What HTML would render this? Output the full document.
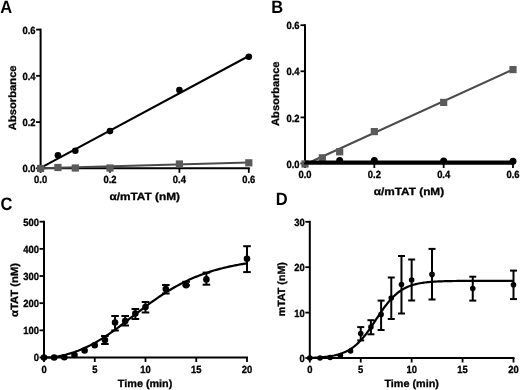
<!DOCTYPE html>
<html><head><meta charset="utf-8"><style>
html,body{margin:0;padding:0;background:#fff;}
body{width:520px;height:390px;overflow:hidden;font-family:"Liberation Sans",sans-serif;}
svg{display:block;will-change:transform;}
text{font-family:"Liberation Sans",sans-serif;font-weight:bold;}
</style></head><body>
<svg width="520" height="390" viewBox="0 0 520 390" text-rendering="geometricPrecision">
<rect width="520" height="390" fill="#fff"/>
<text transform="translate(6.3 12.8) scale(1 1.09)" x="0" y="0" font-size="16.5" text-anchor="middle" >A</text>
<line x1="40.60" y1="28.60" x2="40.60" y2="169.30" stroke="#000" stroke-width="2"/>
<line x1="39.60" y1="168.30" x2="249.80" y2="168.30" stroke="#000" stroke-width="2"/>
<line x1="36.10" y1="168.30" x2="40.60" y2="168.30" stroke="#000" stroke-width="1.8"/>
<text transform="translate(35.60 172.25) scale(0.97 1.07)" font-size="9.7" text-anchor="end"  stroke="#000" stroke-width="0.3">0.0</text>
<line x1="36.10" y1="122.07" x2="40.60" y2="122.07" stroke="#000" stroke-width="1.8"/>
<text transform="translate(35.60 126.02) scale(0.97 1.07)" font-size="9.7" text-anchor="end"  stroke="#000" stroke-width="0.3">0.2</text>
<line x1="36.10" y1="75.83" x2="40.60" y2="75.83" stroke="#000" stroke-width="1.8"/>
<text transform="translate(35.60 79.78) scale(0.97 1.07)" font-size="9.7" text-anchor="end"  stroke="#000" stroke-width="0.3">0.4</text>
<line x1="36.10" y1="29.60" x2="40.60" y2="29.60" stroke="#000" stroke-width="1.8"/>
<text transform="translate(35.60 33.55) scale(0.97 1.07)" font-size="9.7" text-anchor="end"  stroke="#000" stroke-width="0.3">0.6</text>
<line x1="40.60" y1="168.30" x2="40.60" y2="172.80" stroke="#000" stroke-width="1.8"/>
<text transform="translate(40.60 182.80) scale(0.97 1.07)" font-size="9.7" text-anchor="middle"  stroke="#000" stroke-width="0.3">0.0</text>
<line x1="110.00" y1="168.30" x2="110.00" y2="172.80" stroke="#000" stroke-width="1.8"/>
<text transform="translate(110.00 182.80) scale(0.97 1.07)" font-size="9.7" text-anchor="middle"  stroke="#000" stroke-width="0.3">0.2</text>
<line x1="179.40" y1="168.30" x2="179.40" y2="172.80" stroke="#000" stroke-width="1.8"/>
<text transform="translate(179.40 182.80) scale(0.97 1.07)" font-size="9.7" text-anchor="middle"  stroke="#000" stroke-width="0.3">0.4</text>
<line x1="248.80" y1="168.30" x2="248.80" y2="172.80" stroke="#000" stroke-width="1.8"/>
<text transform="translate(248.80 182.80) scale(0.97 1.07)" font-size="9.7" text-anchor="middle"  stroke="#000" stroke-width="0.3">0.6</text>
<text x="15.60" y="97.80" font-size="10.5" text-anchor="middle"  stroke="#000" stroke-width="0.3" transform="rotate(-90 15.6 97.8)" textLength="64.8" lengthAdjust="spacingAndGlyphs">Absorbance</text>
<text x="144.70" y="200.30" font-size="10.5" text-anchor="middle"  stroke="#000" stroke-width="0.3" textLength="70.5" lengthAdjust="spacingAndGlyphs">α/mTAT (nM)</text>
<line x1="40.60" y1="167.80" x2="248.80" y2="56.00" stroke="#000" stroke-width="2"/>
<circle cx="57.95" cy="155.30" r="3.3" fill="#000"/>
<circle cx="75.30" cy="150.80" r="3.3" fill="#000"/>
<circle cx="110.00" cy="131.10" r="3.3" fill="#000"/>
<circle cx="179.40" cy="90.10" r="3.3" fill="#000"/>
<circle cx="248.80" cy="56.80" r="3.3" fill="#000"/>
<line x1="40.60" y1="168.30" x2="248.80" y2="162.60" stroke="#4a4a4a" stroke-width="2"/>
<rect x="37.00" y="164.90" width="7.2" height="7.2" fill="#5a5a5a"/>
<rect x="54.35" y="163.90" width="7.2" height="7.2" fill="#5a5a5a"/>
<rect x="71.70" y="164.40" width="7.2" height="7.2" fill="#5a5a5a"/>
<rect x="106.40" y="164.40" width="7.2" height="7.2" fill="#5a5a5a"/>
<rect x="175.80" y="160.40" width="7.2" height="7.2" fill="#5a5a5a"/>
<rect x="245.20" y="159.20" width="7.2" height="7.2" fill="#5a5a5a"/>
<text transform="translate(277.1 12.5) scale(1 1.09)" x="0" y="0" font-size="16.5" text-anchor="middle" >B</text>
<line x1="305.00" y1="24.20" x2="305.00" y2="164.50" stroke="#000" stroke-width="2"/>
<line x1="304.00" y1="163.50" x2="514.00" y2="163.50" stroke="#000" stroke-width="2"/>
<line x1="300.50" y1="163.50" x2="305.00" y2="163.50" stroke="#000" stroke-width="1.8"/>
<text transform="translate(299.50 167.65) scale(0.97 1.07)" font-size="9.7" text-anchor="end"  stroke="#000" stroke-width="0.3">0.0</text>
<line x1="300.50" y1="117.40" x2="305.00" y2="117.40" stroke="#000" stroke-width="1.8"/>
<text transform="translate(299.50 121.55) scale(0.97 1.07)" font-size="9.7" text-anchor="end"  stroke="#000" stroke-width="0.3">0.2</text>
<line x1="300.50" y1="71.30" x2="305.00" y2="71.30" stroke="#000" stroke-width="1.8"/>
<text transform="translate(299.50 75.45) scale(0.97 1.07)" font-size="9.7" text-anchor="end"  stroke="#000" stroke-width="0.3">0.4</text>
<line x1="300.50" y1="25.20" x2="305.00" y2="25.20" stroke="#000" stroke-width="1.8"/>
<text transform="translate(299.50 29.35) scale(0.97 1.07)" font-size="9.7" text-anchor="end"  stroke="#000" stroke-width="0.3">0.6</text>
<line x1="305.00" y1="163.50" x2="305.00" y2="168.00" stroke="#000" stroke-width="1.8"/>
<text transform="translate(305.00 177.90) scale(0.97 1.07)" font-size="9.7" text-anchor="middle"  stroke="#000" stroke-width="0.3">0.0</text>
<line x1="374.33" y1="163.50" x2="374.33" y2="168.00" stroke="#000" stroke-width="1.8"/>
<text transform="translate(374.33 177.90) scale(0.97 1.07)" font-size="9.7" text-anchor="middle"  stroke="#000" stroke-width="0.3">0.2</text>
<line x1="443.67" y1="163.50" x2="443.67" y2="168.00" stroke="#000" stroke-width="1.8"/>
<text transform="translate(443.67 177.90) scale(0.97 1.07)" font-size="9.7" text-anchor="middle"  stroke="#000" stroke-width="0.3">0.4</text>
<line x1="513.00" y1="163.50" x2="513.00" y2="168.00" stroke="#000" stroke-width="1.8"/>
<text transform="translate(513.00 177.90) scale(0.97 1.07)" font-size="9.7" text-anchor="middle"  stroke="#000" stroke-width="0.3">0.6</text>
<text x="279.20" y="93.70" font-size="10.5" text-anchor="middle"  stroke="#000" stroke-width="0.3" transform="rotate(-90 279.2 93.7)" textLength="64.6" lengthAdjust="spacingAndGlyphs">Absorbance</text>
<text x="408.90" y="195.20" font-size="10.5" text-anchor="middle"  stroke="#000" stroke-width="0.3" textLength="70.5" lengthAdjust="spacingAndGlyphs">α/mTAT (nM)</text>
<line x1="305.00" y1="164.50" x2="513.00" y2="69.50" stroke="#4a4a4a" stroke-width="2"/>
<rect x="301.40" y="160.40" width="7.2" height="7.2" fill="#5a5a5a"/>
<rect x="318.73" y="154.20" width="7.2" height="7.2" fill="#5a5a5a"/>
<rect x="336.07" y="148.20" width="7.2" height="7.2" fill="#5a5a5a"/>
<rect x="370.73" y="128.00" width="7.2" height="7.2" fill="#5a5a5a"/>
<rect x="440.07" y="98.80" width="7.2" height="7.2" fill="#5a5a5a"/>
<rect x="509.40" y="66.00" width="7.2" height="7.2" fill="#5a5a5a"/>
<line x1="305.00" y1="162.00" x2="513.00" y2="162.00" stroke="#000" stroke-width="3"/>
<line x1="304.00" y1="163.50" x2="514.00" y2="163.50" stroke="#000" stroke-width="2"/>
<circle cx="339.67" cy="160.40" r="3.5" fill="#000"/>
<circle cx="374.33" cy="160.40" r="3.5" fill="#000"/>
<circle cx="443.67" cy="161.00" r="3.5" fill="#000"/>
<circle cx="513.00" cy="161.20" r="3.5" fill="#000"/>
<text transform="translate(6.5 209.5) scale(1 1.09)" x="0" y="0" font-size="16.5" text-anchor="middle" >C</text>
<line x1="44.00" y1="220.70" x2="44.00" y2="358.50" stroke="#000" stroke-width="2"/>
<line x1="43.00" y1="357.50" x2="248.00" y2="357.50" stroke="#000" stroke-width="2"/>
<line x1="39.50" y1="357.50" x2="44.00" y2="357.50" stroke="#000" stroke-width="1.8"/>
<text transform="translate(39.00 361.45) scale(0.97 1.07)" font-size="9.7" text-anchor="end"  stroke="#000" stroke-width="0.3">0</text>
<line x1="39.50" y1="330.34" x2="44.00" y2="330.34" stroke="#000" stroke-width="1.8"/>
<text transform="translate(39.00 334.29) scale(0.97 1.07)" font-size="9.7" text-anchor="end"  stroke="#000" stroke-width="0.3">100</text>
<line x1="39.50" y1="303.18" x2="44.00" y2="303.18" stroke="#000" stroke-width="1.8"/>
<text transform="translate(39.00 307.13) scale(0.97 1.07)" font-size="9.7" text-anchor="end"  stroke="#000" stroke-width="0.3">200</text>
<line x1="39.50" y1="276.02" x2="44.00" y2="276.02" stroke="#000" stroke-width="1.8"/>
<text transform="translate(39.00 279.97) scale(0.97 1.07)" font-size="9.7" text-anchor="end"  stroke="#000" stroke-width="0.3">300</text>
<line x1="39.50" y1="248.86" x2="44.00" y2="248.86" stroke="#000" stroke-width="1.8"/>
<text transform="translate(39.00 252.81) scale(0.97 1.07)" font-size="9.7" text-anchor="end"  stroke="#000" stroke-width="0.3">400</text>
<line x1="39.50" y1="221.70" x2="44.00" y2="221.70" stroke="#000" stroke-width="1.8"/>
<text transform="translate(39.00 225.65) scale(0.97 1.07)" font-size="9.7" text-anchor="end"  stroke="#000" stroke-width="0.3">500</text>
<line x1="44.00" y1="357.50" x2="44.00" y2="362.00" stroke="#000" stroke-width="1.8"/>
<text transform="translate(44.00 372.50) scale(0.97 1.07)" font-size="9.7" text-anchor="middle"  stroke="#000" stroke-width="0.3">0</text>
<line x1="94.75" y1="357.50" x2="94.75" y2="362.00" stroke="#000" stroke-width="1.8"/>
<text transform="translate(94.75 372.50) scale(0.97 1.07)" font-size="9.7" text-anchor="middle"  stroke="#000" stroke-width="0.3">5</text>
<line x1="145.50" y1="357.50" x2="145.50" y2="362.00" stroke="#000" stroke-width="1.8"/>
<text transform="translate(145.50 372.50) scale(0.97 1.07)" font-size="9.7" text-anchor="middle"  stroke="#000" stroke-width="0.3">10</text>
<line x1="196.25" y1="357.50" x2="196.25" y2="362.00" stroke="#000" stroke-width="1.8"/>
<text transform="translate(196.25 372.50) scale(0.97 1.07)" font-size="9.7" text-anchor="middle"  stroke="#000" stroke-width="0.3">15</text>
<line x1="247.00" y1="357.50" x2="247.00" y2="362.00" stroke="#000" stroke-width="1.8"/>
<text transform="translate(247.00 372.50) scale(0.97 1.07)" font-size="9.7" text-anchor="middle"  stroke="#000" stroke-width="0.3">20</text>
<text x="18.30" y="289.90" font-size="10.5" text-anchor="middle"  stroke="#000" stroke-width="0.3" transform="rotate(-90 18.3 289.9)" textLength="54" lengthAdjust="spacingAndGlyphs">αTAT (nM)</text>
<text x="145.10" y="387.40" font-size="10.5" text-anchor="middle"  stroke="#000" stroke-width="0.3" textLength="54.5" lengthAdjust="spacingAndGlyphs">Time (min)</text>
<polyline points="44.00,357.50 45.71,357.50 47.41,357.50 49.12,357.50 50.82,357.50 52.53,357.38 54.24,357.10 55.94,356.80 57.65,356.48 59.35,356.13 61.06,355.77 62.76,355.38 64.47,354.96 66.18,354.53 67.88,354.06 69.59,353.57 71.29,353.05 73.00,352.50 74.71,351.93 76.41,351.32 78.12,350.69 79.82,350.02 81.53,349.32 83.24,348.60 84.94,347.84 86.65,347.05 88.35,346.23 90.06,345.38 91.76,344.50 93.47,343.58 95.18,342.64 96.88,341.67 98.59,340.67 100.29,339.64 102.00,338.58 103.71,337.50 105.41,336.39 107.12,335.26 108.82,334.11 110.53,332.93 112.24,331.73 113.94,330.52 115.65,329.29 117.35,328.04 119.06,326.78 120.76,325.50 122.47,324.21 124.18,322.92 125.88,321.62 127.59,320.31 129.29,318.99 131.00,317.68 132.71,316.36 134.41,315.04 136.12,313.73 137.82,312.41 139.53,311.11 141.24,309.81 142.94,308.52 144.65,307.23 146.35,305.96 148.06,304.70 149.76,303.45 151.47,302.21 153.18,300.99 154.88,299.79 156.59,298.60 158.29,297.43 160.00,296.28 161.71,295.14 163.41,294.03 165.12,292.93 166.82,291.86 168.53,290.80 170.24,289.77 171.94,288.76 173.65,287.77 175.35,286.80 177.06,285.85 178.76,284.93 180.47,284.02 182.18,283.14 183.88,282.28 185.59,281.45 187.29,280.63 189.00,279.84 190.71,279.06 192.41,278.31 194.12,277.58 195.82,276.87 197.53,276.18 199.24,275.51 200.94,274.86 202.65,274.23 204.35,273.61 206.06,273.02 207.76,272.44 209.47,271.88 211.18,271.34 212.88,270.82 214.59,270.31 216.29,269.82 218.00,269.35 219.71,268.89 221.41,268.45 223.12,268.02 224.82,267.60 226.53,267.20 228.24,266.82 229.94,266.44 231.65,266.08 233.35,265.73 235.06,265.40 236.76,265.07 238.47,264.76 240.18,264.45 241.88,264.16 243.59,263.88 245.29,263.61 247.00,263.35" fill="none" stroke="#000" stroke-width="2.2" stroke-linejoin="round"/>
<circle cx="44.00" cy="357.50" r="3.3" fill="#000"/>
<circle cx="54.15" cy="357.50" r="3.3" fill="#000"/>
<circle cx="64.30" cy="357.30" r="3.3" fill="#000"/>
<circle cx="74.45" cy="355.00" r="3.3" fill="#000"/>
<circle cx="84.60" cy="350.50" r="3.3" fill="#000"/>
<circle cx="94.75" cy="345.30" r="3.3" fill="#000"/>
<line x1="104.90" y1="336.00" x2="104.90" y2="344.00" stroke="#000" stroke-width="2"/>
<line x1="101.10" y1="336.00" x2="108.70" y2="336.00" stroke="#000" stroke-width="2"/>
<line x1="101.10" y1="344.00" x2="108.70" y2="344.00" stroke="#000" stroke-width="2"/>
<circle cx="104.90" cy="340.00" r="3.3" fill="#000"/>
<line x1="115.05" y1="316.00" x2="115.05" y2="330.50" stroke="#000" stroke-width="2"/>
<line x1="111.25" y1="316.00" x2="118.85" y2="316.00" stroke="#000" stroke-width="2"/>
<line x1="111.25" y1="330.50" x2="118.85" y2="330.50" stroke="#000" stroke-width="2"/>
<circle cx="115.05" cy="322.50" r="3.3" fill="#000"/>
<line x1="125.20" y1="316.00" x2="125.20" y2="325.50" stroke="#000" stroke-width="2"/>
<line x1="121.40" y1="316.00" x2="129.00" y2="316.00" stroke="#000" stroke-width="2"/>
<line x1="121.40" y1="325.50" x2="129.00" y2="325.50" stroke="#000" stroke-width="2"/>
<circle cx="125.20" cy="321.00" r="3.3" fill="#000"/>
<line x1="135.35" y1="309.00" x2="135.35" y2="319.00" stroke="#000" stroke-width="2"/>
<line x1="131.55" y1="309.00" x2="139.15" y2="309.00" stroke="#000" stroke-width="2"/>
<line x1="131.55" y1="319.00" x2="139.15" y2="319.00" stroke="#000" stroke-width="2"/>
<circle cx="135.35" cy="313.50" r="3.3" fill="#000"/>
<line x1="145.50" y1="302.00" x2="145.50" y2="312.50" stroke="#000" stroke-width="2"/>
<line x1="141.70" y1="302.00" x2="149.30" y2="302.00" stroke="#000" stroke-width="2"/>
<line x1="141.70" y1="312.50" x2="149.30" y2="312.50" stroke="#000" stroke-width="2"/>
<circle cx="145.50" cy="307.00" r="3.3" fill="#000"/>
<line x1="165.80" y1="285.00" x2="165.80" y2="293.50" stroke="#000" stroke-width="2"/>
<line x1="162.00" y1="285.00" x2="169.60" y2="285.00" stroke="#000" stroke-width="2"/>
<line x1="162.00" y1="293.50" x2="169.60" y2="293.50" stroke="#000" stroke-width="2"/>
<circle cx="165.80" cy="289.00" r="3.3" fill="#000"/>
<line x1="186.10" y1="281.80" x2="186.10" y2="285.30" stroke="#000" stroke-width="2"/>
<line x1="182.30" y1="281.80" x2="189.90" y2="281.80" stroke="#000" stroke-width="2"/>
<line x1="182.30" y1="285.30" x2="189.90" y2="285.30" stroke="#000" stroke-width="2"/>
<circle cx="186.10" cy="285.30" r="3.3" fill="#000"/>
<line x1="206.40" y1="272.60" x2="206.40" y2="284.70" stroke="#000" stroke-width="2"/>
<line x1="202.60" y1="272.60" x2="210.20" y2="272.60" stroke="#000" stroke-width="2"/>
<line x1="202.60" y1="284.70" x2="210.20" y2="284.70" stroke="#000" stroke-width="2"/>
<circle cx="206.40" cy="279.40" r="3.3" fill="#000"/>
<line x1="247.00" y1="246.20" x2="247.00" y2="272.10" stroke="#000" stroke-width="2"/>
<line x1="243.20" y1="246.20" x2="250.80" y2="246.20" stroke="#000" stroke-width="2"/>
<line x1="243.20" y1="272.10" x2="250.80" y2="272.10" stroke="#000" stroke-width="2"/>
<circle cx="247.00" cy="258.80" r="3.3" fill="#000"/>
<text transform="translate(281.7 204.6) scale(1 1.09)" x="0" y="0" font-size="16.5" text-anchor="middle" >D</text>
<line x1="309.80" y1="220.80" x2="309.80" y2="359.00" stroke="#000" stroke-width="2"/>
<line x1="308.80" y1="358.00" x2="514.50" y2="358.00" stroke="#000" stroke-width="2"/>
<line x1="305.30" y1="358.00" x2="309.80" y2="358.00" stroke="#000" stroke-width="1.8"/>
<text transform="translate(304.80 361.95) scale(0.97 1.07)" font-size="9.7" text-anchor="end"  stroke="#000" stroke-width="0.3">0</text>
<line x1="305.30" y1="312.60" x2="309.80" y2="312.60" stroke="#000" stroke-width="1.8"/>
<text transform="translate(304.80 316.55) scale(0.97 1.07)" font-size="9.7" text-anchor="end"  stroke="#000" stroke-width="0.3">10</text>
<line x1="305.30" y1="267.20" x2="309.80" y2="267.20" stroke="#000" stroke-width="1.8"/>
<text transform="translate(304.80 271.15) scale(0.97 1.07)" font-size="9.7" text-anchor="end"  stroke="#000" stroke-width="0.3">20</text>
<line x1="305.30" y1="221.80" x2="309.80" y2="221.80" stroke="#000" stroke-width="1.8"/>
<text transform="translate(304.80 225.75) scale(0.97 1.07)" font-size="9.7" text-anchor="end"  stroke="#000" stroke-width="0.3">30</text>
<line x1="309.80" y1="358.00" x2="309.80" y2="362.50" stroke="#000" stroke-width="1.8"/>
<text transform="translate(309.80 372.50) scale(0.97 1.07)" font-size="9.7" text-anchor="middle"  stroke="#000" stroke-width="0.3">0</text>
<line x1="360.73" y1="358.00" x2="360.73" y2="362.50" stroke="#000" stroke-width="1.8"/>
<text transform="translate(360.73 372.50) scale(0.97 1.07)" font-size="9.7" text-anchor="middle"  stroke="#000" stroke-width="0.3">5</text>
<line x1="411.65" y1="358.00" x2="411.65" y2="362.50" stroke="#000" stroke-width="1.8"/>
<text transform="translate(411.65 372.50) scale(0.97 1.07)" font-size="9.7" text-anchor="middle"  stroke="#000" stroke-width="0.3">10</text>
<line x1="462.57" y1="358.00" x2="462.57" y2="362.50" stroke="#000" stroke-width="1.8"/>
<text transform="translate(462.57 372.50) scale(0.97 1.07)" font-size="9.7" text-anchor="middle"  stroke="#000" stroke-width="0.3">15</text>
<line x1="513.50" y1="358.00" x2="513.50" y2="362.50" stroke="#000" stroke-width="1.8"/>
<text transform="translate(513.50 372.50) scale(0.97 1.07)" font-size="9.7" text-anchor="middle"  stroke="#000" stroke-width="0.3">20</text>
<text x="284.80" y="289.20" font-size="10.5" text-anchor="middle"  stroke="#000" stroke-width="0.3" transform="rotate(-90 284.8 289.2)" textLength="54" lengthAdjust="spacingAndGlyphs">mTAT (nM)</text>
<text x="411.70" y="387.40" font-size="10.5" text-anchor="middle"  stroke="#000" stroke-width="0.3" textLength="54.5" lengthAdjust="spacingAndGlyphs">Time (min)</text>
<polyline points="309.80,357.90 311.08,357.85 312.36,357.80 313.64,357.75 314.92,357.69 316.21,357.62 317.49,357.54 318.77,357.46 320.05,357.37 321.33,357.27 322.61,357.16 323.89,357.04 325.17,356.91 326.45,356.76 327.74,356.60 329.02,356.42 330.30,356.22 331.58,356.01 332.86,355.77 334.14,355.51 335.42,355.22 336.70,354.91 337.98,354.57 339.27,354.19 340.55,353.78 341.83,353.33 343.11,352.84 344.39,352.31 345.67,351.73 346.95,351.10 348.23,350.41 349.52,349.67 350.80,348.87 352.08,348.00 353.36,347.07 354.64,346.07 355.92,345.00 357.20,343.86 358.48,342.65 359.76,341.35 361.05,339.99 362.33,338.55 363.61,337.04 364.89,335.45 366.17,333.81 367.45,332.10 368.73,330.33 370.01,328.51 371.29,326.66 372.58,324.76 373.86,322.85 375.14,320.91 376.42,318.97 377.70,317.03 378.98,315.11 380.26,313.21 381.54,311.33 382.82,309.50 384.11,307.72 385.39,305.98 386.67,304.31 387.95,302.71 389.23,301.17 390.51,299.70 391.79,298.31 393.07,296.99 394.35,295.75 395.64,294.58 396.92,293.48 398.20,292.45 399.48,291.50 400.76,290.61 402.04,289.79 403.32,289.02 404.60,288.32 405.88,287.67 407.17,287.07 408.45,286.52 409.73,286.01 411.01,285.55 412.29,285.12 413.57,284.73 414.85,284.38 416.13,284.06 417.42,283.76 418.70,283.49 419.98,283.25 421.26,283.02 422.54,282.82 423.82,282.63 425.10,282.47 426.38,282.31 427.66,282.17 428.95,282.05 430.23,281.93 431.51,281.83 432.79,281.74 434.07,281.65 435.35,281.57 436.63,281.50 437.91,281.44 439.19,281.38 440.48,281.33 441.76,281.28 443.04,281.24 444.32,281.20 445.60,281.17 446.88,281.14 448.16,281.11 449.44,281.08 450.72,281.06 452.01,281.04 453.29,281.02 454.57,281.00 455.85,280.98 457.13,280.97 458.41,280.96 459.69,280.94 460.97,280.93 462.25,280.92 463.54,280.92 464.82,280.91 466.10,280.90 467.38,280.89 468.66,280.89 469.94,280.88 471.22,280.88 472.50,280.87 473.78,280.87 475.07,280.87 476.35,280.86 477.63,280.86 478.91,280.86 480.19,280.86 481.47,280.85 482.75,280.85 484.03,280.85 485.32,280.85 486.60,280.85 487.88,280.85 489.16,280.84 490.44,280.84 491.72,280.84 493.00,280.84 494.28,280.84 495.56,280.84 496.85,280.84 498.13,280.84 499.41,280.84 500.69,280.84 501.97,280.84 503.25,280.84 504.53,280.84 505.81,280.84 507.09,280.84 508.38,280.84 509.66,280.84 510.94,280.84 512.22,280.84 513.50,280.84" fill="none" stroke="#000" stroke-width="2.2" stroke-linejoin="round"/>
<circle cx="309.80" cy="358.00" r="2.8" fill="#000"/>
<circle cx="319.99" cy="358.00" r="2.8" fill="#000"/>
<circle cx="330.17" cy="357.50" r="2.8" fill="#000"/>
<circle cx="340.36" cy="355.50" r="2.8" fill="#000"/>
<circle cx="350.54" cy="351.00" r="2.8" fill="#000"/>
<line x1="360.73" y1="327.10" x2="360.73" y2="340.40" stroke="#000" stroke-width="2"/>
<line x1="357.23" y1="327.10" x2="364.23" y2="327.10" stroke="#000" stroke-width="2"/>
<line x1="357.23" y1="340.40" x2="364.23" y2="340.40" stroke="#000" stroke-width="2"/>
<circle cx="360.73" cy="333.50" r="2.8" fill="#000"/>
<line x1="370.91" y1="320.20" x2="370.91" y2="334.30" stroke="#000" stroke-width="2"/>
<line x1="367.41" y1="320.20" x2="374.41" y2="320.20" stroke="#000" stroke-width="2"/>
<line x1="367.41" y1="334.30" x2="374.41" y2="334.30" stroke="#000" stroke-width="2"/>
<circle cx="370.91" cy="327.10" r="2.8" fill="#000"/>
<line x1="381.10" y1="300.60" x2="381.10" y2="330.00" stroke="#000" stroke-width="2"/>
<line x1="377.60" y1="300.60" x2="384.60" y2="300.60" stroke="#000" stroke-width="2"/>
<line x1="377.60" y1="330.00" x2="384.60" y2="330.00" stroke="#000" stroke-width="2"/>
<circle cx="381.10" cy="314.40" r="2.8" fill="#000"/>
<line x1="391.28" y1="277.50" x2="391.28" y2="319.00" stroke="#000" stroke-width="2"/>
<line x1="387.78" y1="277.50" x2="394.78" y2="277.50" stroke="#000" stroke-width="2"/>
<line x1="387.78" y1="319.00" x2="394.78" y2="319.00" stroke="#000" stroke-width="2"/>
<circle cx="391.28" cy="298.00" r="2.8" fill="#000"/>
<line x1="401.47" y1="256.00" x2="401.47" y2="313.50" stroke="#000" stroke-width="2"/>
<line x1="397.97" y1="256.00" x2="404.97" y2="256.00" stroke="#000" stroke-width="2"/>
<line x1="397.97" y1="313.50" x2="404.97" y2="313.50" stroke="#000" stroke-width="2"/>
<circle cx="401.47" cy="284.50" r="2.8" fill="#000"/>
<line x1="411.65" y1="259.50" x2="411.65" y2="300.50" stroke="#000" stroke-width="2"/>
<line x1="408.15" y1="259.50" x2="415.15" y2="259.50" stroke="#000" stroke-width="2"/>
<line x1="408.15" y1="300.50" x2="415.15" y2="300.50" stroke="#000" stroke-width="2"/>
<circle cx="411.65" cy="280.00" r="2.8" fill="#000"/>
<line x1="432.02" y1="248.90" x2="432.02" y2="299.50" stroke="#000" stroke-width="2"/>
<line x1="428.52" y1="248.90" x2="435.52" y2="248.90" stroke="#000" stroke-width="2"/>
<line x1="428.52" y1="299.50" x2="435.52" y2="299.50" stroke="#000" stroke-width="2"/>
<circle cx="432.02" cy="274.40" r="2.8" fill="#000"/>
<line x1="472.76" y1="276.70" x2="472.76" y2="300.60" stroke="#000" stroke-width="2"/>
<line x1="469.26" y1="276.70" x2="476.26" y2="276.70" stroke="#000" stroke-width="2"/>
<line x1="469.26" y1="300.60" x2="476.26" y2="300.60" stroke="#000" stroke-width="2"/>
<circle cx="472.76" cy="288.50" r="2.8" fill="#000"/>
<line x1="513.50" y1="270.60" x2="513.50" y2="299.10" stroke="#000" stroke-width="2"/>
<line x1="510.00" y1="270.60" x2="517.00" y2="270.60" stroke="#000" stroke-width="2"/>
<line x1="510.00" y1="299.10" x2="517.00" y2="299.10" stroke="#000" stroke-width="2"/>
<circle cx="513.50" cy="284.80" r="2.8" fill="#000"/>
</svg>
</body></html>
